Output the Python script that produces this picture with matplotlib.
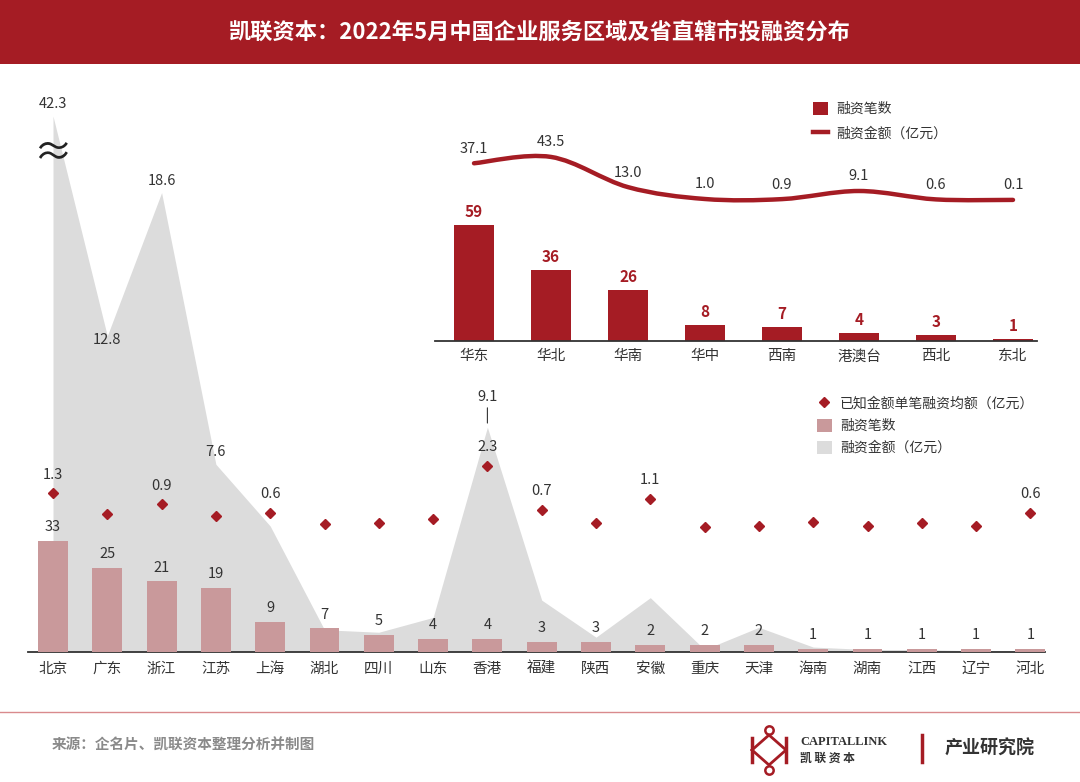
import numpy as np
import matplotlib
matplotlib.use("Agg")
import matplotlib.pyplot as plt
from matplotlib.path import Path
from matplotlib.patches import PathPatch, Rectangle
from matplotlib.lines import Line2D

plt.rcParams['font.family'] = ['Noto Sans CJK SC', 'DejaVu Sans']

# ==============================
# DATA
# ==============================
provinces = ["北京", "广东", "浙江", "江苏", "上海", "湖北", "四川", "山东", "香港", "福建",
             "陕西", "安徽", "重庆", "天津", "海南", "湖南", "江西", "辽宁", "河北"]
prov_counts = [33, 25, 21, 19, 9, 7, 5, 4, 4, 3, 3, 2, 2, 2, 1, 1, 1, 1, 1]
prov_amounts = [42.3, 12.8, 18.6, 7.6, 5.1, 0.9, 0.8, 1.4, 9.1, 2.1,
                0.6, 2.2, 0.1, 1.0, 0.2, 0.1, 0.1, 0.05, 0.05]
prov_avg = [1.3, 0.55, 0.9, 0.47, 0.6, 0.18, 0.22, 0.36, 2.3, 0.7,
            0.22, 1.1, 0.07, 0.11, 0.25, 0.11, 0.22, 0.11, 0.6]
amount_labels = {0: "42.3", 1: "12.8", 2: "18.6", 3: "7.6", 8: "9.1"}
avg_labels = {0: "1.3", 2: "0.9", 4: "0.6", 8: "2.3", 9: "0.7", 11: "1.1", 18: "0.6"}

regions = ["华东", "华北", "华南", "华中", "西南", "港澳台", "西北", "东北"]
region_counts = [59, 36, 26, 8, 7, 4, 3, 1]
region_amounts = [37.1, 43.5, 13.0, 1.0, 0.9, 9.1, 0.6, 0.1]

RED = "#A51C24"
PINK = "#C9999B"
GREY = "#DCDCDC"
TXT = "#333333"

W, H = 1080, 782
fig = plt.figure(figsize=(W / 100, H / 100), dpi=100)
fig.patch.set_facecolor("white")


def px_axes(l, t, r, b):
    ax = fig.add_axes([l / W, 1 - b / H, (r - l) / W, (b - t) / H])
    ax.patch.set_alpha(0)
    for s in ax.spines.values():
        s.set_visible(False)
    ax.set_yticks([])
    return ax


# ==============================
# HEADER
# ==============================
fig.add_artist(Rectangle((0, 1 - 64 / H), 1, 64 / H, transform=fig.transFigure,
                         facecolor=RED, edgecolor="none"))
fig.text(0.5, 1 - 32 / H, "凯联资本：2022年5月中国企业服务区域及省直辖市投融资分布",
         color="white", fontsize=16, fontweight="bold", ha="center", va="center")

# ==============================
# MAIN CHART (provinces)
# ==============================
x = np.arange(len(provinces))
L, T, R, B = 28, 100, 1045, 652
xlim = (-(53 - L) / 54.3, (R - 53) / 54.3)
ph = B - T

ax_area = px_axes(L, T, R, B)
ax_bar = px_axes(L, T, R, B)
ax_dot = px_axes(L, T, R, B)
for a in (ax_area, ax_bar, ax_dot):
    a.set_xlim(*xlim)

cap = 21.7  # broken axis for 北京
ax_area.set_ylim(0, ph / 24.7)
shown = np.minimum(prov_amounts, cap)
area = ax_area.fill_between(x, 0, shown, color=GREY, linewidth=0, label="融资金额（亿元）")
for i, lab in amount_labels.items():
    if i == 1:
        ax_area.annotate(lab, (x[i], shown[i]), xytext=(0, -3), textcoords="offset points",
                         ha="center", va="center", fontsize=10.5, color=TXT)
    elif i == 8:
        ax_area.annotate(lab, (x[i], shown[i]), xytext=(0, 22), textcoords="offset points",
                         ha="center", va="center", fontsize=10.5, color=TXT,
                         arrowprops=dict(arrowstyle="-", color=TXT, lw=0.8,
                                         shrinkA=1, shrinkB=3))
    else:
        ax_area.annotate(lab, (x[i], shown[i]), xytext=(0, 8.5), textcoords="offset points",
                         ha="center", va="center", fontsize=10.5, color=TXT)
ax_area.text(x[0], 21.7 - 37 / 24.7, "≈", ha="center", va="center", fontsize=28,
             color="#222222")

ax_bar.set_ylim(0, ph / 3.36)
bars = ax_bar.bar(x, prov_counts, width=0.55, color=PINK, label="融资笔数")
for i, c in enumerate(prov_counts):
    ax_bar.annotate(str(c), (x[i], c), xytext=(0, 10), textcoords="offset points",
                    ha="center", va="center", fontsize=10.5, color=TXT)

ax_dot.set_ylim(-123 / 27.4, (ph - 123) / 27.4)
dots, = ax_dot.plot(x, prov_avg, linestyle="none", marker="D", markersize=5.5,
                    color=RED, label="已知金额单笔融资均额（亿元）")
for i, lab in avg_labels.items():
    ax_dot.annotate(lab, (x[i], prov_avg[i]), xytext=(0, 13.5), textcoords="offset points",
                    ha="center", va="center", fontsize=10.5, color=TXT)

ax_area.spines["bottom"].set_visible(True)
ax_area.spines["bottom"].set_color(TXT)
ax_area.spines["bottom"].set_linewidth(1.3)
ax_area.set_xticks(x)
ax_area.set_xticklabels(provinces, fontsize=10.5, color=TXT)
ax_area.tick_params(axis="x", length=0, pad=7)
for a in (ax_bar, ax_dot):
    a.set_xticks([])

fig.legend(handles=[dots, bars, area], labels=[h.get_label() for h in (dots, bars, area)],
           loc="upper left", bbox_to_anchor=(804 / W, 1 - 384 / H), frameon=False,
           fontsize=10, handlelength=1.1, handleheight=1.1, handletextpad=0.6,
           labelspacing=0.55, labelcolor=TXT)

# ==============================
# INSET CHART (regions)
# ==============================
rx = np.arange(len(regions))
iL, iT, iR, iB = 435, 100, 1037, 341
ixlim = (-(474 - iL) / 77.0, (iR - 474) / 77.0)
ih = iB - iT

ax_rb = px_axes(iL, iT, iR, iB)
ax_rl = px_axes(iL, iT, iR, iB)
for a in (ax_rb, ax_rl):
    a.set_xlim(*ixlim)

ax_rb.set_ylim(0, ih / 1.97)
rbars = ax_rb.bar(rx, region_counts, width=0.53, color=RED, label="融资笔数")
for i, c in enumerate(region_counts):
    ax_rb.annotate(str(c), (rx[i], c), xytext=(0, 9.5), textcoords="offset points",
                   ha="center", va="center", fontsize=11, color=RED, fontweight="bold")
ax_rb.spines["bottom"].set_visible(True)
ax_rb.spines["bottom"].set_color(TXT)
ax_rb.spines["bottom"].set_linewidth(1.3)
ax_rb.set_xticks(rx)
ax_rb.set_xticklabels(regions, fontsize=10.5, color=TXT)
ax_rb.tick_params(axis="x", length=0, pad=6)

ax_rl.set_ylim(-141 / 0.99, (ih - 141) / 0.99)
ax_rl.set_xticks([])
# smooth curve (Catmull-Rom -> cubic Bezier) through the data points
pts = np.column_stack([rx, region_amounts]).astype(float)
ext = np.vstack([pts[0], pts, pts[-1]])
verts = [tuple(pts[0])]
codes = [Path.MOVETO]
for k in range(1, len(ext) - 2):
    p0, p1, p2, p3 = ext[k - 1], ext[k], ext[k + 1], ext[k + 2]
    c1 = p1 + (p2 - p0) / 6.0
    c2 = p2 - (p3 - p1) / 6.0
    verts += [tuple(c1), tuple(c2), tuple(p2)]
    codes += [Path.CURVE4] * 3
ax_rl.add_patch(PathPatch(Path(verts, codes), facecolor="none", edgecolor=RED,
                          linewidth=3.2, capstyle="round"))
for i, v in enumerate(region_amounts):
    ax_rl.annotate(f"{v:.1f}", (rx[i], v), xytext=(0, 10.5), textcoords="offset points",
                   ha="center", va="center", fontsize=10.5, color=TXT)

rline = Line2D([], [], color=RED, linewidth=3.2, label="融资金额（亿元）")
fig.legend(handles=[rbars, rline], labels=["融资笔数", "融资金额（亿元）"],
           loc="upper left", bbox_to_anchor=(800 / W, 1 - 89 / H), frameon=False,
           fontsize=10, handlelength=1.1, handleheight=1.1, handletextpad=0.6,
           labelspacing=0.75, labelcolor=TXT)

# ==============================
# FOOTER
# ==============================
fig.add_artist(Line2D([0, 1], [1 - 712 / H, 1 - 712 / H], transform=fig.transFigure,
                      color="#D98A8D", linewidth=1))
fig.text(52 / W, 1 - 745 / H, "来源：企名片、凯联资本整理分析并制图", color="#8A8A8A",
         fontsize=10.5, fontweight="bold", ha="left", va="center")

# logo mark
lc = 769 / W
fig.add_artist(Line2D([752 / W, 752 / W], [1 - 738 / H, 1 - 762 / H],
                      transform=fig.transFigure, color=RED, linewidth=2.5))
fig.add_artist(Line2D([786 / W, 786 / W], [1 - 738 / H, 1 - 762 / H],
                      transform=fig.transFigure, color=RED, linewidth=2.5))
fig.add_artist(Line2D([752 / W, 769 / W, 786 / W], [1 - 750 / H, 1 - 735 / H, 1 - 750 / H],
                      transform=fig.transFigure, color=RED, linewidth=2))
fig.add_artist(Line2D([752 / W, 769 / W, 786 / W], [1 - 750 / H, 1 - 765 / H, 1 - 750 / H],
                      transform=fig.transFigure, color=RED, linewidth=2))
for cy in (730, 770):
    fig.add_artist(Line2D([lc], [1 - cy / H], transform=fig.transFigure, marker="o",
                          markersize=6, markerfacecolor="none", markeredgecolor=RED,
                          markeredgewidth=1.8, linestyle="none"))
fig.text(800 / W, 1 - 742 / H, "CAPITALLINK", family=["Liberation Serif", "DejaVu Serif"],
         fontweight="bold", fontsize=9, color="#333333", ha="left", va="center")
fig.text(800 / W, 1 - 758 / H, "凯 联 资 本", fontsize=8.5, color="#333333",
         fontweight="bold", ha="left", va="center")
fig.add_artist(Line2D([922 / W, 922 / W], [1 - 735 / H, 1 - 762 / H],
                      transform=fig.transFigure, color=RED, linewidth=2.5))
fig.text(945 / W, 1 - 748 / H, "产业研究院", fontsize=13, color="#333333",
         fontweight="bold", ha="left", va="center")

fig.savefig("out.png", dpi=100)
